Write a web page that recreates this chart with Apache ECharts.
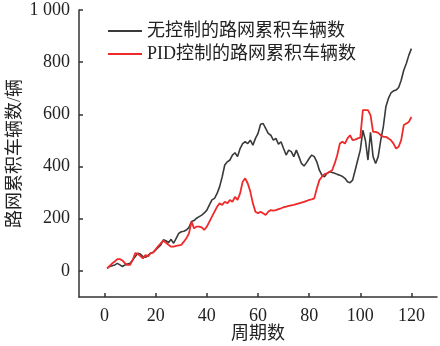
<!DOCTYPE html>
<html>
<head>
<meta charset="utf-8">
<script src="https://cdn.jsdelivr.net/npm/echarts@6/dist/echarts.min.js"></script>
<style>html,body{margin:0;padding:0;background:#fff}#c{width:440px;height:346px}</style>
</head>
<body>
<div id="c"></div>
<script>
var periods = [];
for (var i = 1; i <= 120; i++) periods.push(i);
var noControl = [10,17,20,23,29,23,17,23,26,29,42,55,68,65,55,52,60,68,72,80,
  90,100,119,116,108,121,106,125,144,150,152,157,167,189,193,202,208,214,222,233,
  253,272,278,297,323,361,406,418,425,444,453,438,469,488,495,488,501,482,508,527,
  562,565,546,527,520,501,508,486,495,469,444,463,457,438,463,438,412,402,415,431,
  444,438,418,386,367,361,374,380,377,374,370,367,362,355,342,338,348,386,425,463,
  539,501,425,531,438,412,438,501,552,629,661,682,690,693,703,731,769,795,827,852];
var pidControl = [10,19,29,36,45,45,40,29,23,23,42,68,65,57,48,61,55,68,70,83,
  95,106,116,108,100,93,93,96,98,100,112,125,144,189,163,170,170,167,157,170,
  189,208,227,246,259,253,265,259,272,265,284,272,297,342,355,335,304,259,227,221,
  227,221,214,227,233,231,233,237,240,244,246,249,251,253,256,259,262,265,268,272,
  274,278,316,348,361,371,374,380,386,412,444,488,495,488,508,520,501,503,508,511,
  616,616,616,597,533,533,529,520,514,514,508,501,488,469,476,501,559,565,571,590];
var xTicks = [0,20,40,60,80,100,120];
var yTicks = [0,200,400,600,800,1000];
var seriesNames = ['无控制的路网累积车辆数','PID控制的路网累积车辆数'];

function pairs(vals){ return periods.map(function(t,i){ return [t, vals[i]]; }); }

var fontFam = '"Liberation Serif","Noto Sans CJK SC",serif';
var chart = echarts.init(document.getElementById('c'), null, {renderer:'canvas'});
chart.setOption({
  backgroundColor:'#ffffff',
  animation:false,
  grid:{left:79, right:3, top:10, bottom:49, containLabel:false, outerBoundsMode:'none'},
  legend:{
    orient:'vertical', left:103, top:17, itemGap:5,
    itemWidth:34, itemHeight:2, icon:'rect',
    textStyle:{fontFamily:fontFam, fontSize:18, color:'#222'},
    data:seriesNames
  },
  xAxis:{
    type:'value', min:-10, max:130,
    name:'周期数', nameLocation:'middle', nameGap:28, nameMoveOverlap:false,
    nameTextStyle:{fontFamily:fontFam, fontSize:18, color:'#222', verticalAlign:'top'},
    axisLine:{show:true, onZero:false, lineStyle:{color:'#333', width:1.5}},
    axisTick:{show:true, inside:true, length:4, customValues:xTicks, lineStyle:{color:'#333', width:1.5}},
    axisLabel:{customValues:xTicks, margin:10, fontFamily:fontFam, fontSize:18, color:'#222'},
    splitLine:{show:false}
  },
  yAxis:{
    type:'value', min:-100, max:1000,
    name:'路网累积车辆数/辆', nameLocation:'middle', nameGap:55, nameRotate:90, nameMoveOverlap:false,
    nameTextStyle:{fontFamily:fontFam, fontSize:18, color:'#222'},
    axisLine:{show:true, onZero:false, lineStyle:{color:'#333', width:1.5}},
    axisTick:{show:true, inside:true, length:4, customValues:yTicks, lineStyle:{color:'#333', width:1.5}},
    axisLabel:{customValues:yTicks, margin:9, fontFamily:fontFam, fontSize:18, color:'#222',
      formatter:function(v){ return v === 1000 ? '1 000' : String(v); }},
    splitLine:{show:false}
  },
  series:[
    {name:seriesNames[0], type:'line', data:pairs(noControl), showSymbol:false, symbol:'none',
      lineStyle:{color:'#3a3a3a', width:1.6}, itemStyle:{color:'#3a3a3a'}, z:2},
    {name:seriesNames[1], type:'line', data:pairs(pidControl), showSymbol:false, symbol:'none',
      lineStyle:{color:'#ee2a2a', width:1.8}, itemStyle:{color:'#ee2a2a'}, z:3}
  ]
});
</script>
</body>
</html>
